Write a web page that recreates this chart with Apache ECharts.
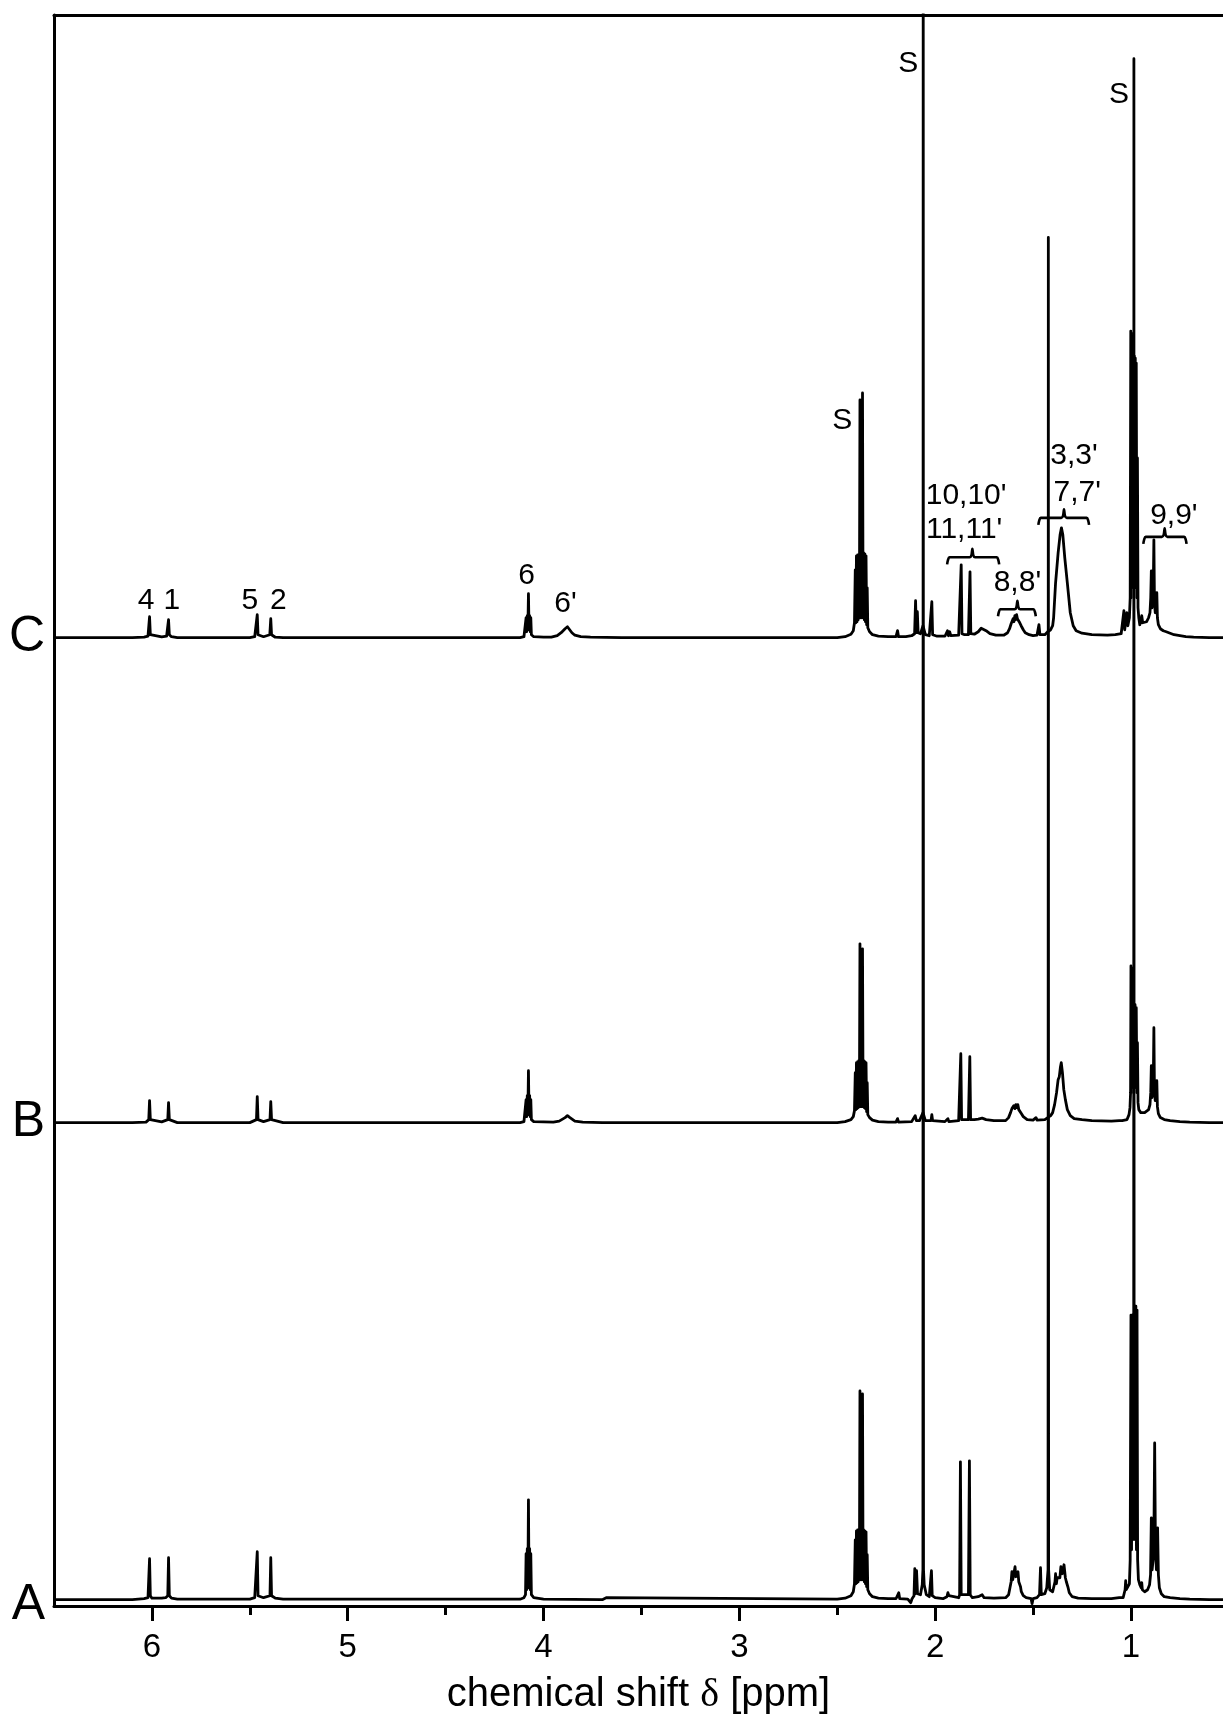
<!DOCTYPE html>
<html><head><meta charset="utf-8">
<script src="https://cdn.jsdelivr.net/npm/echarts@6/dist/echarts.min.js"></script>
<style>html,body{margin:0;padding:0;background:#fff}#c{width:1223px;height:1720px}</style>
</head><body><div id="c"></div>
<script>
// ---- axis ticks ----
const xTickMajor = [1, 2, 3, 4, 5, 6];
const xTickMinor = [1.5, 2.5, 3.5, 4.5, 5.5];
const xRange = [0.53, 6.5];
const yRange = [0, 159.3];

// ---- spectra: [ppm, intensity above own baseline] ----
const spectrumNames = ['A', 'B', 'C'];
const spectrumOffsets = [0.63, 48.4, 96.95];
const yLabelValues = [0.1, 48.4, 96.95];

const specA = [
[6.5,0],[6.10,0],[6.04,0.1],[6.02,0.2],[6.016,0.4],[6.012,4.1],[6.008,0.4],[6.0,0.15],[5.95,0.15],[5.93,0.2],[5.919,0.4],[5.915,4.2],[5.911,0.4],[5.90,0.15],[5.87,0.05],
[5.50,0.05],[5.475,0.2],[5.466,0.4],[5.462,4.8],[5.458,0.4],[5.43,0.2],[5.397,0.4],[5.393,4.2],[5.389,0.4],[5.37,0.15],[5.33,0.05],
[4.12,0.05],[4.10,0.2],[4.092,0.5],[4.089,4.6],[4.086,1.0],[4.083,5.1],[4.080,1.2],[4.077,10.0],[4.074,1.2],[4.071,5.1],[4.068,1.0],[4.065,4.6],[4.062,0.5],[4.05,0.2],[4.0,0.05],
[3.70,0],[3.68,0.2],[3.67,0],
[2.50,0.05],[2.46,0.15],[2.43,0.4],[2.418,0.8],[2.412,1.6],[2.408,6.0],[2.405,1.6],[2.402,6.9],[2.399,1.7],[2.396,7.0],[2.393,1.8],[2.390,7.0],[2.387,2.0],[2.384,20.9],[2.381,2.0],[2.378,7.0],[2.375,2.0],[2.371,20.6],[2.368,2.0],[2.365,7.0],[2.362,1.8],[2.359,6.9],[2.356,1.6],[2.353,6.8],[2.350,1.3],[2.347,4.5],[2.344,1.0],[2.335,0.6],[2.32,0.3],[2.29,0.15],[2.24,0.1],
[2.20,0.1],[2.186,0.7],[2.181,0.1],[2.14,0.05],[2.125,-0.3],[2.118,0.1],[2.108,0.4],[2.104,3.1],[2.100,0.6],[2.095,2.9],[2.090,0.6],[2.075,0.5],[2.066,1.5],[2.0625,3.0],[2.061,176],[2.0595,3.0],[2.056,1.5],[2.045,0.5],[2.03,0.3],[2.023,0.4],[2.019,2.9],[2.015,0.4],[2.0,0.2],[1.96,0.1],[1.94,0.3],[1.935,0.7],[1.930,0.4],[1.925,0.6],[1.92,0.2],
[1.88,0.2],[1.875,0.5],[1.871,13.8],[1.867,0.5],[1.83,0.5],[1.829,0.5],[1.825,13.9],[1.821,0.5],[1.81,0.2],[1.78,0.3],[1.76,0.5],[1.75,0.2],[1.70,0.15],
[1.64,0.2],[1.625,0.5],[1.618,1.2],[1.612,1.8],[1.608,2.8],[1.604,2.0],[1.600,2.4],[1.595,2.2],[1.592,3.3],[1.588,2.3],[1.584,2.5],[1.580,2.3],[1.577,2.8],[1.573,1.8],[1.568,1.6],[1.564,1.3],[1.56,0.8],[1.55,0.4],[1.535,0.2],[1.51,0.1],[1.505,-0.4],[1.50,0.1],[1.48,0.2],
[1.467,0.5],[1.462,3.2],[1.458,0.5],[1.44,0.6],[1.43,1.2],[1.4235,3.0],[1.422,136.4],[1.4205,3.0],[1.415,1.0],[1.40,0.8],
[1.392,1.0],[1.388,1.8],[1.385,2.6],[1.381,1.6],[1.377,2.2],[1.372,2.0],[1.368,2.4],[1.363,2.2],[1.358,3.3],[1.355,3.5],[1.351,2.6],[1.346,2.4],[1.342,3.5],[1.339,3.4],[1.335,2.2],[1.330,1.8],[1.325,2.0],[1.321,1.2],[1.315,0.7],[1.30,0.3],[1.27,0.15],[1.20,0.1],[1.10,0.1],[1.06,0.2],[1.05,0.3],[1.04,0.2],
[1.035,0.4],[1.030,1.0],[1.027,1.9],[1.024,1.0],[1.015,1.1],[1.008,1.6],[1.004,4],[1.000,28.5],[0.997,5],[0.994,28.5],[0.991,6],[0.988,28.0],[0.9862,10],[0.985,154.3],[0.9838,10],[0.981,29.4],[0.978,6],[0.975,29.4],[0.972,5],[0.969,29.0],[0.966,4],[0.962,2.0],[0.955,1.5],[0.948,1.2],[0.945,1.7],[0.942,1.0],[0.93,0.8],[0.915,1.0],
[0.905,1.5],[0.900,2.5],[0.896,8.2],[0.892,3.0],[0.887,4.0],[0.883,6.0],[0.879,15.7],[0.875,5.0],[0.870,3.0],[0.866,4.0],[0.864,7.2],[0.860,2.5],[0.855,1.2],[0.845,0.6],[0.83,0.3],[0.80,0.2],[0.75,0.1],[0.70,0.05],[0.60,0],[0.53,0]
];

const specB = [
[6.5,0],[6.10,0],[6.03,0.05],[6.016,0.3],[6.012,2.2],[6.008,0.3],[5.95,0.08],[5.919,0.3],[5.915,2.0],[5.911,0.3],[5.87,0],
[5.50,0],[5.466,0.3],[5.462,2.6],[5.458,0.3],[5.43,0.1],[5.397,0.3],[5.393,2.1],[5.389,0.3],[5.33,0],
[4.12,0],[4.10,0.1],[4.092,0.3],[4.089,2.3],[4.086,0.6],[4.083,2.7],[4.080,0.8],[4.077,5.2],[4.074,0.8],[4.071,2.7],[4.068,0.6],[4.065,2.3],[4.062,0.3],[4.05,0.1],
[3.95,0.05],[3.92,0.15],[3.89,0.5],[3.878,0.7],[3.865,0.5],[3.84,0.15],[3.80,0.05],[3.7,0],
[2.50,0],[2.46,0.1],[2.43,0.3],[2.418,0.6],[2.412,1.2],[2.408,5.0],[2.405,1.3],[2.402,6.0],[2.399,1.4],[2.396,6.1],[2.393,1.5],[2.390,6.2],[2.387,1.6],[2.384,17.9],[2.381,1.6],[2.378,6.2],[2.375,1.6],[2.371,17.4],[2.368,1.6],[2.365,6.2],[2.362,1.5],[2.359,6.1],[2.356,1.4],[2.353,6.0],[2.350,1.1],[2.347,4.0],[2.344,0.8],[2.335,0.5],[2.32,0.25],[2.29,0.1],[2.24,0.05],
[2.20,0.05],[2.192,0.4],[2.187,0.05],[2.12,0.1],[2.102,0.7],[2.096,0.2],[2.08,0.2],[2.062,1.0],[2.05,0.2],[2.021,0.2],[2.017,0.8],[2.013,0.2],[1.95,0.1],[1.935,0.4],[1.93,0.1],
[1.88,0.2],[1.873,0.3],[1.869,6.9],[1.865,0.3],[1.83,0.3],[1.827,0.3],[1.823,6.6],[1.819,0.3],[1.80,0.3],[1.78,0.35],[1.76,0.45],[1.74,0.3],[1.70,0.2],
[1.64,0.2],[1.625,0.5],[1.615,1.0],[1.608,1.4],[1.603,1.2],[1.598,1.7],[1.593,1.4],[1.588,1.8],[1.583,1.5],[1.578,1.8],[1.573,1.3],[1.567,1.4],[1.56,0.9],[1.55,0.6],[1.53,0.3],[1.50,0.25],[1.485,0.5],[1.48,0.25],[1.44,0.3],[1.425,0.5],[1.42,0.5],
[1.41,0.7],[1.40,1.0],[1.39,1.8],[1.38,3.0],[1.372,4.3],[1.366,4.6],[1.36,5.6],[1.356,6.0],[1.35,5.0],[1.343,3.3],[1.335,2.3],[1.325,1.3],[1.31,0.7],[1.29,0.4],[1.25,0.3],[1.20,0.2],[1.10,0.15],
[1.06,0.2],[1.05,0.35],[1.045,0.2],[1.02,0.3],[1.01,0.8],[1.005,1.5],[1.002,3.0],[1.000,15.7],[0.998,3],[0.995,15.5],[0.993,3.5],[0.990,15.3],[0.988,4],[0.985,11.8],[0.982,4],[0.979,11.8],[0.976,3.5],[0.973,11.5],[0.970,3],[0.967,8],[0.964,2],[0.96,1.3],[0.95,1.0],[0.94,1.2],[0.93,1.0],[0.91,1.3],
[0.903,1.8],[0.899,3.0],[0.896,5.7],[0.893,2.5],[0.889,3.0],[0.886,4.0],[0.883,9.5],[0.880,3.0],[0.876,2.2],[0.871,2.6],[0.868,4.2],[0.865,1.6],[0.86,0.9],[0.85,0.5],[0.83,0.3],[0.80,0.2],[0.75,0.1],[0.70,0.05],[0.60,0],[0.53,0]
];

const specC = [
[6.50,0],[6.10,0],[6.04,0.05],[6.02,0.15],[6.016,0.3],[6.012,2.1],[6.008,0.3],[6.0,0.1],[5.95,0.08],[5.925,0.15],[5.919,0.3],[5.915,1.8],[5.911,0.3],[5.9,0.1],[5.87,0],
[5.50,0],[5.475,0.1],[5.466,0.3],[5.462,2.3],[5.458,0.3],[5.43,0.1],[5.398,0.3],[5.393,1.9],[5.389,0.3],[5.37,0.05],[5.33,0],
[4.12,0],[4.10,0.1],[4.092,0.3],[4.089,2.0],[4.086,0.6],[4.083,2.2],[4.080,0.8],[4.077,4.4],[4.074,0.8],[4.071,2.2],[4.068,0.6],[4.065,2.0],[4.062,0.3],[4.05,0.1],[4.0,0.05],
[3.96,0.05],[3.93,0.2],[3.91,0.5],[3.89,0.9],[3.878,1.1],[3.87,0.9],[3.855,0.5],[3.84,0.25],[3.81,0.1],[3.76,0.05],[3.6,0],
[2.50,0],[2.46,0.1],[2.43,0.35],[2.418,0.7],[2.412,1.5],[2.408,6.8],[2.405,1.5],[2.402,8.2],[2.399,1.6],[2.396,8.3],[2.393,1.8],[2.390,8.3],[2.387,2.0],[2.384,23.8],[2.381,2.0],[2.378,8.4],[2.375,2.0],[2.371,24.5],[2.368,2.0],[2.365,8.5],[2.362,1.8],[2.359,8.4],[2.356,1.6],[2.353,8.2],[2.350,1.3],[2.347,5.0],[2.344,1.0],[2.335,0.6],[2.32,0.3],[2.29,0.15],[2.24,0.1],
[2.20,0.1],[2.192,0.7],[2.187,0.1],[2.15,0.1],[2.12,0.2],[2.105,0.4],[2.100,3.7],[2.096,0.5],[2.091,2.6],[2.087,0.5],[2.075,0.4],[2.062,1.2],[2.05,0.3],[2.03,0.2],[2.021,0.3],[2.017,3.6],[2.013,0.3],[1.99,0.15],[1.95,0.15],
[1.937,0.7],[1.932,0.2],[1.926,0.6],[1.92,0.2],[1.88,0.25],[1.871,0.4],[1.867,7.3],[1.863,0.4],[1.85,0.3],[1.83,0.3],[1.826,0.4],[1.822,6.6],[1.818,0.4],[1.80,0.35],[1.78,0.6],[1.765,0.95],[1.755,1.0],[1.74,0.7],[1.72,0.4],[1.69,0.25],
[1.65,0.25],[1.63,0.5],[1.62,0.9],[1.612,1.4],[1.607,1.3],[1.602,1.9],[1.598,1.6],[1.593,2.2],[1.589,1.8],[1.584,2.3],[1.580,1.9],[1.575,2.1],[1.571,1.6],[1.566,1.8],[1.561,1.2],[1.556,1.2],[1.55,0.8],[1.54,0.5],[1.52,0.3],[1.50,0.2],[1.48,0.25],[1.470,1.3],[1.465,0.3],[1.44,0.3],[1.425,0.6],[1.42,0.5],
[1.41,0.8],[1.40,1.2],[1.395,2.0],[1.385,5.5],[1.372,8.5],[1.362,10.3],[1.355,11.0],[1.348,10.3],[1.338,8.0],[1.325,5.5],[1.31,2.5],[1.295,1.2],[1.28,0.7],[1.25,0.45],[1.20,0.3],[1.12,0.25],[1.08,0.3],
[1.05,0.4],[1.04,0.6],[1.036,2.7],[1.032,0.8],[1.025,1.0],[1.021,2.5],[1.016,1.2],[1.008,2.0],[1.004,4.0],[1.001,30.7],[0.999,4],[0.997,30.5],[0.995,5],[0.993,30.2],[0.991,6],[0.988,28.2],[0.986,6],[0.983,28.2],[0.981,6],[0.978,28.0],[0.976,5],[0.973,27.5],[0.970,4],[0.967,18],[0.964,3],[0.960,2.0],[0.955,1.3],[0.95,1.6],[0.945,2.2],[0.94,1.5],[0.93,1.3],[0.92,1.6],[0.91,2.0],
[0.903,2.5],[0.899,4.0],[0.896,6.7],[0.893,3.0],[0.889,3.5],[0.886,5],[0.883,9.8],[0.880,3.5],[0.876,2.5],[0.871,3.0],[0.868,4.5],[0.865,2.0],[0.86,1.3],[0.85,0.9],[0.835,0.7],[0.82,0.6],[0.80,0.45],[0.78,0.3],[0.75,0.2],[0.72,0.1],[0.68,0.05],[0.60,0],[0.53,0]
];

// ---- annotations on spectrum C: text, ppm, height above C baseline ----
const peakLabelText = ['4', '1', '5', '2', '6', "6'", 'S', 'S', 'S', "10,10'", "11,11'", "8,8'", "3,3'", "7,7'", "9,9'"];
const peakLabelPpm  = [6.03, 5.898, 5.50, 5.354, 4.087, 3.888, 2.474, 2.138, 1.061, 1.842, 1.852, 1.58, 1.291, 1.274, 0.781];
const peakLabelY    = [3.7, 3.7, 3.7, 3.7, 6.25, 3.45, 21.7, 57.45, 54.35, 14.2, 10.85, 5.5, 18.2, 14.5, 12.2];

// brackets: ppm start, ppm end, ppm of tip, height above C baseline
const bracketStart = [1.939, 1.679, 1.473, 0.937];
const bracketEnd   = [1.673, 1.486, 1.214, 0.716];
const bracketTip   = [1.81, 1.58, 1.342, 0.828];
const bracketLevel = [8.05, 2.85, 12.0, 10.1];

const FONT = '"Liberation Sans", Arial, sans-serif';
const specs = [specA, specB, specC];

function brace(a, b, t, L) {
  const d = 0.7, r = 0.85;
  return [[a, L - d], [a - 0.004, L - 0.3], [a - 0.012, L], [t + 0.014, L], [t + 0.005, L + 0.2], [t, L + r],
          [t - 0.005, L + 0.2], [t - 0.014, L], [b + 0.012, L], [b + 0.004, L - 0.3], [b, L - d]];
}

const series = [];
specs.forEach((s, i) => {
  series.push({
    type: 'line', name: spectrumNames[i], showSymbol: false, symbol: 'none', clip: true,
    data: s.map(p => [p[0], p[1] + spectrumOffsets[i]]),
    lineStyle: { color: '#000', width: 2.8, join: 'round' }, silent: true
  });
});
const offC = spectrumOffsets[2];
bracketStart.forEach((a, i) => {
  series.push({
    type: 'line', showSymbol: false, symbol: 'none', smooth: 0.3,
    data: brace(a, bracketEnd[i], bracketTip[i], bracketLevel[i] + offC),
    lineStyle: { color: '#000', width: 2.6, join: 'round' }, silent: true
  });
});
series.push({
  type: 'scatter', symbolSize: 0, silent: true, itemStyle: { color: '#000', opacity: 1 },
  data: peakLabelText.map((t, i) => [peakLabelPpm[i], peakLabelY[i] + offC, t]),
  label: { show: true, position: 'inside', formatter: p => p.data[2], color: '#000', opacity: 1, fontSize: 30,
           fontFamily: FONT, textBorderWidth: 0, textShadowBlur: 0 }
});

const axisBase = { type: 'value', min: xRange[0], max: xRange[1], inverse: true, splitLine: { show: false } };
const chart = echarts.init(document.getElementById('c'), null, { renderer: 'canvas' });
chart.setOption({
  animation: false,
  backgroundColor: '#fff',
  grid: { left: 54, right: 0, top: 15, bottom: 112, containLabel: false },
  xAxis: [
    Object.assign({}, axisBase, {
      position: 'bottom',
      axisLine: { show: true, lineStyle: { color: '#000', width: 3 } },
      axisTick: { show: true, customValues: xTickMajor, length: 15, lineStyle: { color: '#000', width: 3 } },
      axisLabel: { show: true, customValues: xTickMajor, margin: 25, fontSize: 33, color: '#000', fontFamily: FONT, formatter: v => String(v) },
      name: 'chemical shift {d|δ} [ppm]', nameLocation: 'middle', nameGap: 69,
      nameTextStyle: { fontSize: 40, color: '#000', fontFamily: FONT,
        rich: { d: { fontSize: 40, color: '#000', fontFamily: '"Liberation Serif", serif' } } }
    }),
    Object.assign({}, axisBase, {
      position: 'bottom',
      axisLine: { show: false },
      axisTick: { show: true, customValues: xTickMinor, length: 9, lineStyle: { color: '#000', width: 3 } },
      axisLabel: { show: false }
    }),
    Object.assign({}, axisBase, {
      position: 'top',
      axisLine: { show: true, lineStyle: { color: '#000', width: 3 } },
      axisTick: { show: false }, axisLabel: { show: false }
    })
  ],
  yAxis: {
    type: 'value', min: yRange[0], max: yRange[1], splitLine: { show: false },
    axisLine: { show: true, lineStyle: { color: '#000', width: 3 } },
    axisTick: { show: false },
    axisLabel: { show: true, customValues: yLabelValues, margin: 9, fontSize: 50, color: '#000', fontFamily: FONT,
      formatter: v => spectrumNames[yLabelValues.indexOf(v)] || '' }
  },
  series: series
});
</script>
</body></html>
